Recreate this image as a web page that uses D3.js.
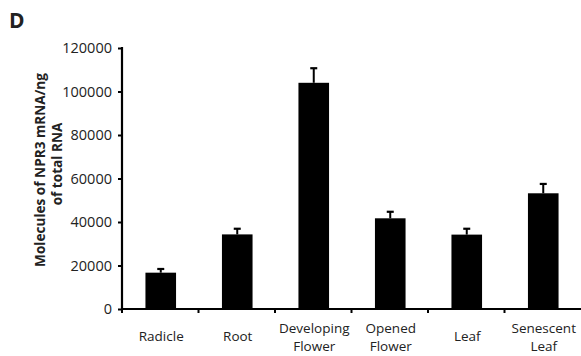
<!DOCTYPE html>
<html>
<head>
<meta charset="utf-8">
<script src="https://cdn.jsdelivr.net/npm/d3@7"></script>
<style>
  html, body { margin: 0; padding: 0; background: #fff; }
  svg { display: block; }
  text { font-family: "Open Sans", "Liberation Sans", sans-serif; fill: #222; }
</style>
</head>
<body>
<svg id="chart" width="581" height="356"></svg>
<script>
// NPR3 transcript abundance per tissue
const categories = [["Radicle"], ["Root"], ["Developing", "Flower"], ["Opened", "Flower"], ["Leaf"], ["Senescent", "Leaf"]];
const means = [16700, 34300, 104000, 41700, 34200, 53200];
const errors = [1700, 2600, 6700, 3000, 2700, 4300];
const yTicks = [0, 20000, 40000, 60000, 80000, 100000, 120000];

const svg = d3.select("#chart");
const plotLeft = 122, plotRight = 581, plotTop = 48, plotBottom = 309;

const keys = categories.map(c => c.join(" "));
const x = d3.scaleBand().domain(keys).range([plotLeft, plotRight]).padding(0);
const y = d3.scaleLinear().domain([0, 120000]).range([plotBottom, plotTop]);
const barW = x.bandwidth() * 0.4;

// panel letter
svg.append("text").attr("x", 9).attr("y", 28)
  .attr("font-size", 21).attr("font-weight", "bold").attr("fill", "#000").text("D");

// bars
const g = svg.append("g");
g.selectAll("rect.bar").data(keys).join("rect")
  .attr("class", "bar")
  .attr("x", d => x(d) + x.bandwidth() / 2 - barW / 2 + 0.5)
  .attr("y", (d, i) => y(means[i]))
  .attr("width", barW)
  .attr("height", (d, i) => y(0) - y(means[i]))
  .attr("fill", "#000");

// upper error bars
keys.forEach((k, i) => {
  const cx = x(k) + x.bandwidth() / 2 + 0.5;
  g.append("line").attr("x1", cx).attr("x2", cx)
    .attr("y1", y(means[i])).attr("y2", y(means[i] + errors[i]))
    .attr("stroke", "#000").attr("stroke-width", 2);
  g.append("line").attr("x1", cx - 3.5).attr("x2", cx + 3.5)
    .attr("y1", y(means[i] + errors[i])).attr("y2", y(means[i] + errors[i]))
    .attr("stroke", "#000").attr("stroke-width", 2.2);
});

// y axis
const yAxis = svg.append("g").attr("transform", `translate(${plotLeft},0)`)
  .call(d3.axisLeft(y).tickValues(yTicks).tickFormat(d3.format("d")).tickSize(4).tickSizeOuter(0).tickPadding(6));
yAxis.select(".domain").attr("stroke", "#000").attr("stroke-width", 2.2)
  .attr("d", `M0,${plotTop - 1}V${plotBottom + 1}`);
yAxis.selectAll(".tick line").attr("stroke", "#000").attr("stroke-width", 2);
yAxis.selectAll(".tick text").attr("font-size", 14.5).attr("fill", "#222")
  .attr("font-family", "'Open Sans', sans-serif");

// x axis with ticks at band boundaries
const xAxisG = svg.append("g");
xAxisG.append("line").attr("x1", plotLeft - 1).attr("x2", plotRight).attr("y1", plotBottom).attr("y2", plotBottom)
  .attr("stroke", "#000").attr("stroke-width", 2.2);
keys.forEach(k => {
  xAxisG.append("line").attr("x1", x(k)).attr("x2", x(k))
    .attr("y1", plotBottom).attr("y2", plotBottom + 4).attr("stroke", "#000").attr("stroke-width", 2);
});

// category labels (two-line names stacked as separate texts)
keys.forEach((k, i) => {
  const lines = categories[i];
  const cx = x(k) + x.bandwidth() / 2 + 1;
  const ys = lines.length === 1 ? [341] : [332.5, 351];
  lines.forEach((line, j) => {
    svg.append("text").attr("text-anchor", "middle").attr("font-size", 13.5).attr("fill", "#222")
      .attr("x", cx).attr("y", ys[j]).text(line);
  });
});

// y axis title
const yt = svg.append("text").attr("transform", "translate(0,170) rotate(-90)")
  .attr("text-anchor", "middle").attr("font-size", 13.6).attr("font-weight", "bold").attr("fill", "#111");
yt.append("tspan").attr("x", 0).attr("y", 45).text("Molecules of NPR3 mRNA/ng");
yt.append("tspan").attr("x", 6).attr("y", 62).text("of total RNA");
</script>
</body>
</html>
